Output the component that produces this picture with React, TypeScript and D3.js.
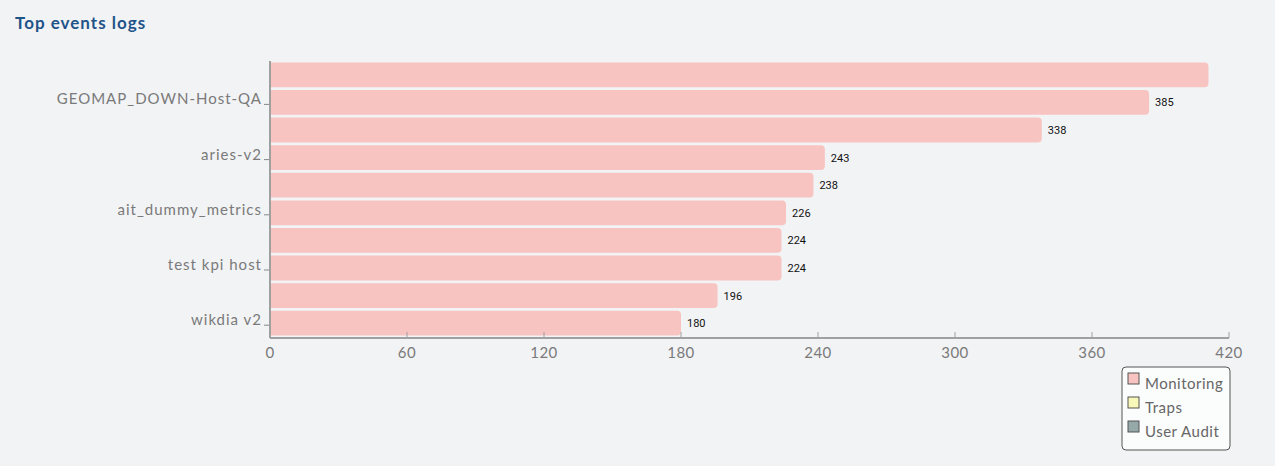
import React, { useEffect, useRef } from "react";
import * as d3 from "d3";

// data (odd labels are hidden on the axis)
const hosts = [
  "GEOMAP_UP-Host-QA",
  "GEOMAP_DOWN-Host-QA",
  "aries-v1",
  "aries-v2",
  "ait_metrics",
  "ait_dummy_metrics",
  "kpi host",
  "test kpi host",
  "wikdia v1",
  "wikdia v2",
];
const counts = [411, 385, 338, 243, 238, 226, 224, 224, 196, 180];
const xTicks = [0, 60, 120, 180, 240, 300, 360, 420];
const legendNames = ["Monitoring", "Traps", "User Audit"];
const legendColors = ["#f7c4c1", "#f8f8b8", "#95a9a9"];

const W = 1275;
const H = 466;

const App = () => {
  const ref = useRef<SVGSVGElement>(null);

  useEffect(() => {
    document.body.style.margin = "0";
    document.body.style.background = "#f2f3f5";
    const svg = d3.select(ref.current);
    svg.selectAll("*").remove();

    const margin = { top: 61, left: 270, right: 46, bottom: 129 };
    const width = W - margin.left - margin.right;
    const height = H - margin.top - margin.bottom;

    const x = d3.scaleLinear().domain([0, 420]).range([0, width]);
    const y = d3.scaleBand().domain(hosts).range([0, height]).paddingInner(0.1).paddingOuter(0.05);

    svg.append("text")
      .attr("x", 15).attr("y", 29)
      .style("font-family", "Lato, sans-serif")
      .style("font-weight", "bold")
      .style("font-size", "17px")
      .style("letter-spacing", "1px")
      .attr("fill", "#1f5489")
      .text("Top events logs");

    const g = svg.append("g").attr("transform", `translate(${margin.left},${margin.top})`);

    const rows = hosts.map((h, i) => ({ name: h, v: counts[i] }));

    // bars with rounded right corners
    g.selectAll(".bar")
      .data(rows)
      .enter()
      .append("path")
      .attr("class", "bar")
      .attr("fill", "#f7c4c1")
      .attr("d", d => {
        const x0 = 1, x1 = x(d.v), y0 = y(d.name)!, y1 = y0 + y.bandwidth(), r = 4;
        return `M${x0},${y0}H${x1 - r}Q${x1},${y0} ${x1},${y0 + r}V${y1 - r}Q${x1},${y1} ${x1 - r},${y1}H${x0}Z`;
      });

    // value labels (the first one is not shown in the original)
    g.selectAll(".val")
      .data(rows.slice(1))
      .enter()
      .append("text")
      .attr("class", "val")
      .attr("x", d => x(d.v) + 6)
      .attr("y", d => y(d.name)! + y.bandwidth() / 2 + 4)
      .style("font-family", "Roboto, sans-serif")
      .style("font-size", "11px")
      .attr("fill", "#111")
      .text(d => d.v);

    // y axis
    g.append("line")
      .attr("x1", 0).attr("x2", 0)
      .attr("y1", 0).attr("y2", height + 1)
      .attr("stroke", "#a0a0a0").attr("stroke-width", 2);

    const shown = rows.filter((_, i) => i % 2 === 1);
    const yt = g.selectAll(".ytick").data(shown).enter().append("g")
      .attr("transform", d => `translate(0,${y(d.name)! + y.bandwidth() / 2})`);
    yt.append("line").attr("x1", -6).attr("x2", -1).attr("y1", 2).attr("y2", 2)
      .attr("stroke", "#888");
    yt.append("text")
      .attr("x", -8).attr("y", 2)
      .attr("text-anchor", "end")
      .style("font-family", "Lato, sans-serif")
      .style("font-size", "15px")
      .style("letter-spacing", "1px")
      .attr("fill", "#7a7a7a")
      .text(d => d.name);

    // x axis
    const xg = g.append("g").attr("transform", `translate(0,${height + 1})`);
    xg.append("line").attr("x1", 0).attr("x2", width).attr("stroke", "#a0a0a0").attr("stroke-width", 2);
    const xt = xg.selectAll(".xtick").data(xTicks).enter().append("g")
      .attr("transform", d => `translate(${x(d)},0)`);
    xt.append("line").attr("y1", 0).attr("y2", -6).attr("stroke", "#a0a0a0");
    xt.append("text")
      .attr("y", 20)
      .attr("text-anchor", "middle")
      .style("font-family", "Lato, sans-serif")
      .style("font-size", "15px")
      .style("letter-spacing", "0.5px")
      .attr("fill", "#7a7a7a")
      .text(d => d);

    // legend
    const lg = svg.append("g").attr("transform", "translate(1122,367)");
    lg.append("rect")
      .attr("width", 108).attr("height", 83).attr("rx", 4)
      .attr("fill", "#fbfcfc").attr("stroke", "#555");
    const li = lg.selectAll(".li").data(legendNames).enter().append("g")
      .attr("transform", (_, i) => `translate(6,${6 + i * 24})`);
    li.append("rect").attr("width", 11).attr("height", 11)
      .attr("fill", (_, i) => legendColors[i]).attr("stroke", "#555");
    li.append("text").attr("x", 17).attr("y", 16)
      .style("font-family", "Lato, sans-serif")
      .style("font-size", "15px")
      .style("letter-spacing", "0.5px")
      .attr("fill", "#666")
      .text(d => d);
  }, []);

  return <svg ref={ref} width={W} height={H} style={{ display: "block", background: "#f2f3f5" }} />;
};

export default App;
